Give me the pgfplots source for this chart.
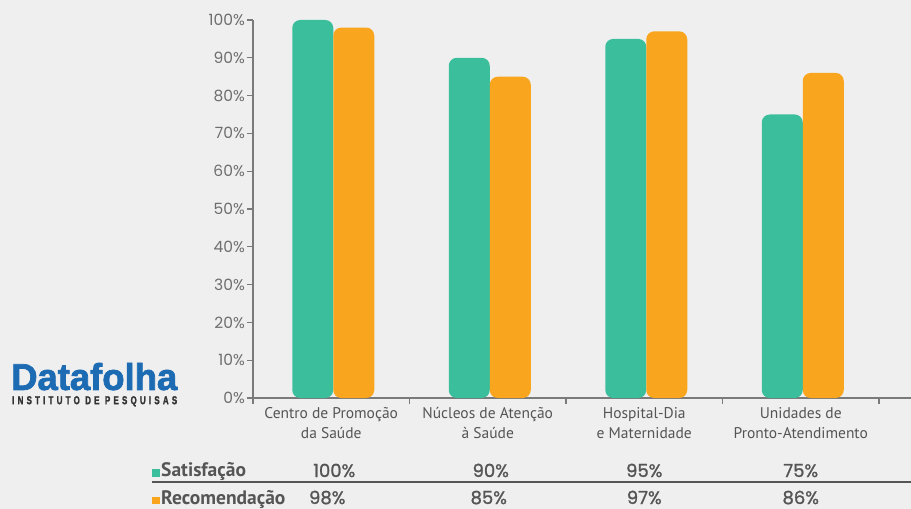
\documentclass[border=0pt]{standalone}
\usepackage{pgfplots}
\pgfplotsset{compat=1.18}
\usepackage{pgfplotstable}
\usepackage{fontspec}
\usepackage{graphicx}
\setmainfont{PT Sans}
\newfontfamily\pop{Poppins}
\newfontfamily\popb[FakeBold=1.2]{Poppins}
\newfontfamily\lib{Liberation Sans}
\newfontfamily\libb[FakeBold=2]{Liberation Sans Bold}
\definecolor{bg}{HTML}{EFEFEF}
\definecolor{cgreen}{HTML}{3BBE9C}
\definecolor{corange}{HTML}{F9A61E}
\definecolor{axisgray}{HTML}{7A7A7A}
\definecolor{tickgray}{HTML}{6E6E6E}
\definecolor{txtgray}{HTML}{555555}
\definecolor{logoblue}{HTML}{1D6BB3}
\definecolor{logodark}{HTML}{333333}

\pgfplotstableread{
cat sat rec
0 100 98
1 90 85
2 95 97
3 75 86
}\datatable

\begin{document}
\begin{tikzpicture}
\fill[bg] (0,0) rectangle (911pt,509pt);
\begin{axis}[
  at={(253pt,111pt)}, anchor=south west,
  scale only axis, width=658pt, height=378pt,
  xmin=-0.5, xmax=3.7045, ymin=4, ymax=104,
  ybar=0pt, bar width=41pt,
  clip mode=individual,
  y filter/.expression={y+4},
  axis x line=bottom, axis y line=left,
  axis line style={-, draw=axisgray, line width=1.2pt},
  tick align=outside,
  major tick length=6pt, minor tick length=6pt,
  tick style={draw=axisgray, line width=1.2pt},
  ytick={4,14,...,104},
  yticklabels={0\%,10\%,20\%,30\%,40\%,50\%,60\%,70\%,80\%,90\%,100\%},
  yticklabel style={font=\pop\fontsize{15.5}{17}\selectfont, text=tickgray, inner sep=2pt},
  xtick={0,1,2,3},
  xticklabels={{Centro de Promoção\\da Saúde},{Núcleos de Atenção\\à Saúde},{Hospital-Dia\\e Maternidade},{Unidades de\\Pronto-Atendimento}},
  xticklabel style={align=center, font=\fontsize{15.5}{19.5}\selectfont, text=txtgray},
  major x tick style={draw=none},
  minor xtick={-0.5,0.5,1.5,2.5,3.5},
  every axis plot/.append style={draw=none, rounded corners=8pt},
]
\addplot[fill=cgreen, bar shift=-18.5pt] table[x=cat, y=sat] {\datatable};
\addplot[fill=corange, bar shift=22.5pt] table[x=cat, y=rec] {\datatable};

\begin{scope}[every node/.style={font=\popb\fontsize{18}{20}\selectfont, text=txtgray, anchor=base}]
\node at (axis cs:0,4) [xshift=3pt, yshift=-79pt] {100\%};
\node at (axis cs:1,4) [xshift=3pt, yshift=-79pt] {90\%};
\node at (axis cs:2,4) [yshift=-79pt] {95\%};
\node at (axis cs:3,4) [yshift=-79pt] {75\%};
\node at (axis cs:0,4) [xshift=-4pt, yshift=-106pt] {98\%};
\node at (axis cs:1,4) [xshift=1pt, yshift=-106pt] {85\%};
\node at (axis cs:2,4) [yshift=-106pt] {97\%};
\node at (axis cs:3,4) [yshift=-106pt] {86\%};
\end{scope}
\end{axis}

% table labels
\node[anchor=base west, inner sep=0, font=\bfseries\fontsize{19.5}{21}\selectfont, text=txtgray] at (152pt,32pt)
  {\textcolor{cgreen}{\rule{8pt}{8pt}}\kern1pt Satisfação};
\node[anchor=base west, inner sep=0, font=\bfseries\fontsize{19.5}{21}\selectfont, text=txtgray] at (152pt,4.5pt)
  {\textcolor{corange}{\rule{8pt}{8pt}}\kern1pt Recomendação};
\draw[draw=txtgray, line width=1.2pt] (152pt,27pt) -- (911pt,27pt);

% logo
\node[anchor=south west, inner sep=0] at (11pt,118.5pt)
  {\resizebox{166pt}{27pt}{\libb\color{logoblue}Datafolha}};
\node[anchor=north west, inner sep=0] at (12pt,113pt)
  {\resizebox{165pt}{8pt}{\libb\addfontfeature{LetterSpace=40}\color{logodark}INSTITUTO DE PESQUISAS}};

\pgfresetboundingbox
\useasboundingbox (0,0) rectangle (911pt,509pt);
\end{tikzpicture}
\end{document}
